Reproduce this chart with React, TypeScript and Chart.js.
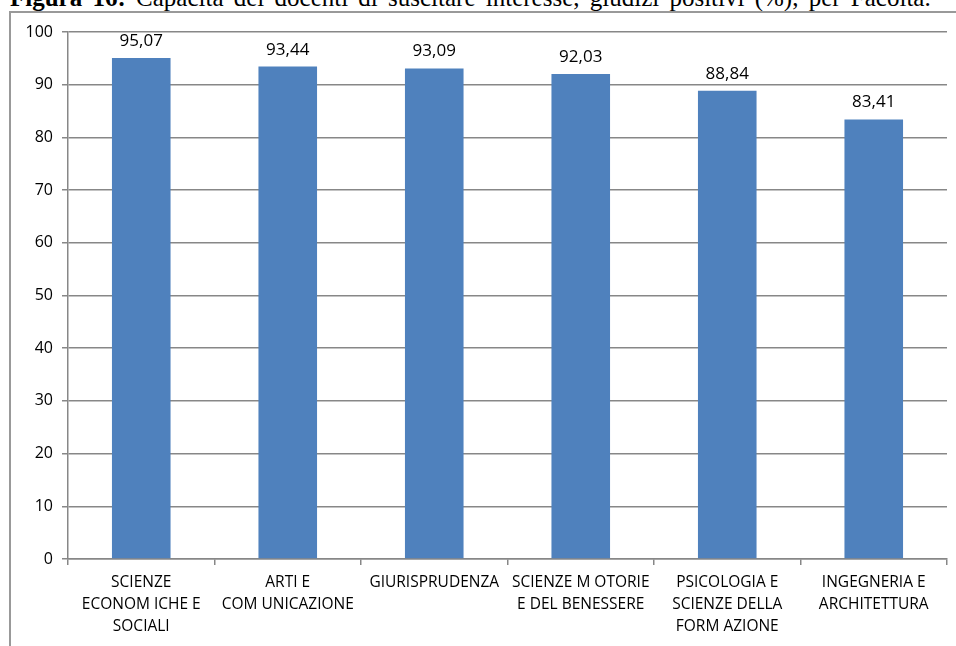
import React, { useEffect, useRef } from "react";
import { Chart, registerables } from "chart.js";

Chart.register(...registerables);

const categories: string[][] = [
  ["SCIENZE", "ECONOM ICHE E", "SOCIALI"],
  ["ARTI E", "COM UNICAZIONE"],
  ["GIURISPRUDENZA"],
  ["SCIENZE M OTORIE", "E DEL BENESSERE"],
  ["PSICOLOGIA E", "SCIENZE DELLA", "FORM AZIONE"],
  ["INGEGNERIA E", "ARCHITETTURA"],
];
const values: number[] = [95.07, 93.44, 93.09, 92.03, 88.84, 83.41];
const yTicks: number[] = [0, 10, 20, 30, 40, 50, 60, 70, 80, 90, 100];

const GRID = "#878787";

const dataLabelPlugin = {
  id: "dataLabels",
  afterDatasetsDraw(chart: any) {
    const ctx = chart.ctx;
    const meta = chart.getDatasetMeta(0);
    ctx.save();
    ctx.fillStyle = "#000";
    ctx.font = "17px 'Open Sans'";
    ctx.textAlign = "center";
    ctx.textBaseline = "alphabetic";
    meta.data.forEach((el: any, i: number) => {
      const v = chart.data.datasets[0].data[i] as number;
      ctx.fillText(v.toFixed(2).replace(".", ","), el.x, el.y - 12);
    });
    ctx.restore();
  },
};

export default function App() {
  const ref = useRef<HTMLCanvasElement>(null);
  useEffect(() => {
    if (!ref.current) return;
    const chart = new Chart(ref.current, {
      type: "bar",
      data: {
        labels: categories,
        datasets: [
          {
            data: values,
            backgroundColor: "#4F81BD",
            barPercentage: 0.4,
            categoryPercentage: 1,
          },
        ],
      },
      options: {
        responsive: false,
        animation: false,
        layout: { padding: { left: 0, right: 9, top: 32, bottom: 0 } },
        plugins: { legend: { display: false }, tooltip: { enabled: false } },
        scales: {
          y: {
            min: 0,
            max: 100,
            afterFit: (s: any) => {
              s.width = 68;
            },
            afterBuildTicks: (s: any) => {
              s.ticks = yTicks.map((v) => ({ value: v }));
            },
            ticks: {
              color: "#000",
              font: { family: "'Open Sans'", size: 16 },
              padding: 9,
            },
            grid: { color: GRID, lineWidth: 1.5, tickLength: 6 },
            border: { display: true, color: GRID, width: 1.5 },
          },
          x: {
            afterFit: (s: any) => {
              s.height = 87;
            },
            offset: true,
            ticks: {
              color: "#000",
              font: { family: "'Open Sans'", size: 15.5, lineHeight: 1.42 },
              padding: 7,
              maxRotation: 0,
              autoSkip: false,
            },
            grid: {
              offset: true,
              drawOnChartArea: false,
              color: GRID,
              lineWidth: 1.5,
              tickLength: 6,
            },
            border: { display: true, color: GRID, width: 1.5 },
          },
        },
      },
      plugins: [dataLabelPlugin],
    });
    return () => chart.destroy();
  }, []);

  return (
    <div
      style={{
        position: "fixed",
        left: 0,
        top: 0,
        width: 956,
        height: 646,
        background: "#fff",
        overflow: "hidden",
      }}
    >
      <div
        style={{
          position: "absolute",
          left: 10,
          top: -15,
          fontFamily: "'Liberation Serif', serif",
          fontSize: 25,
          lineHeight: "25px",
          wordSpacing: 4,
          whiteSpace: "nowrap",
          color: "#000",
        }}
      >
        <b>Figura 16:</b> Capacità dei docenti di suscitare interesse, giudizi positivi (%), per Facoltà.
      </div>
      <div
        style={{
          position: "absolute",
          left: 9,
          top: 11,
          width: 960,
          height: 660,
          borderTop: "2px solid #999",
          borderLeft: "2px solid #999",
        }}
      />
      <canvas
        ref={ref}
        width={956}
        height={646}
        style={{ position: "absolute", left: 0, top: 0, width: 956, height: 646 }}
      />
    </div>
  );
}
